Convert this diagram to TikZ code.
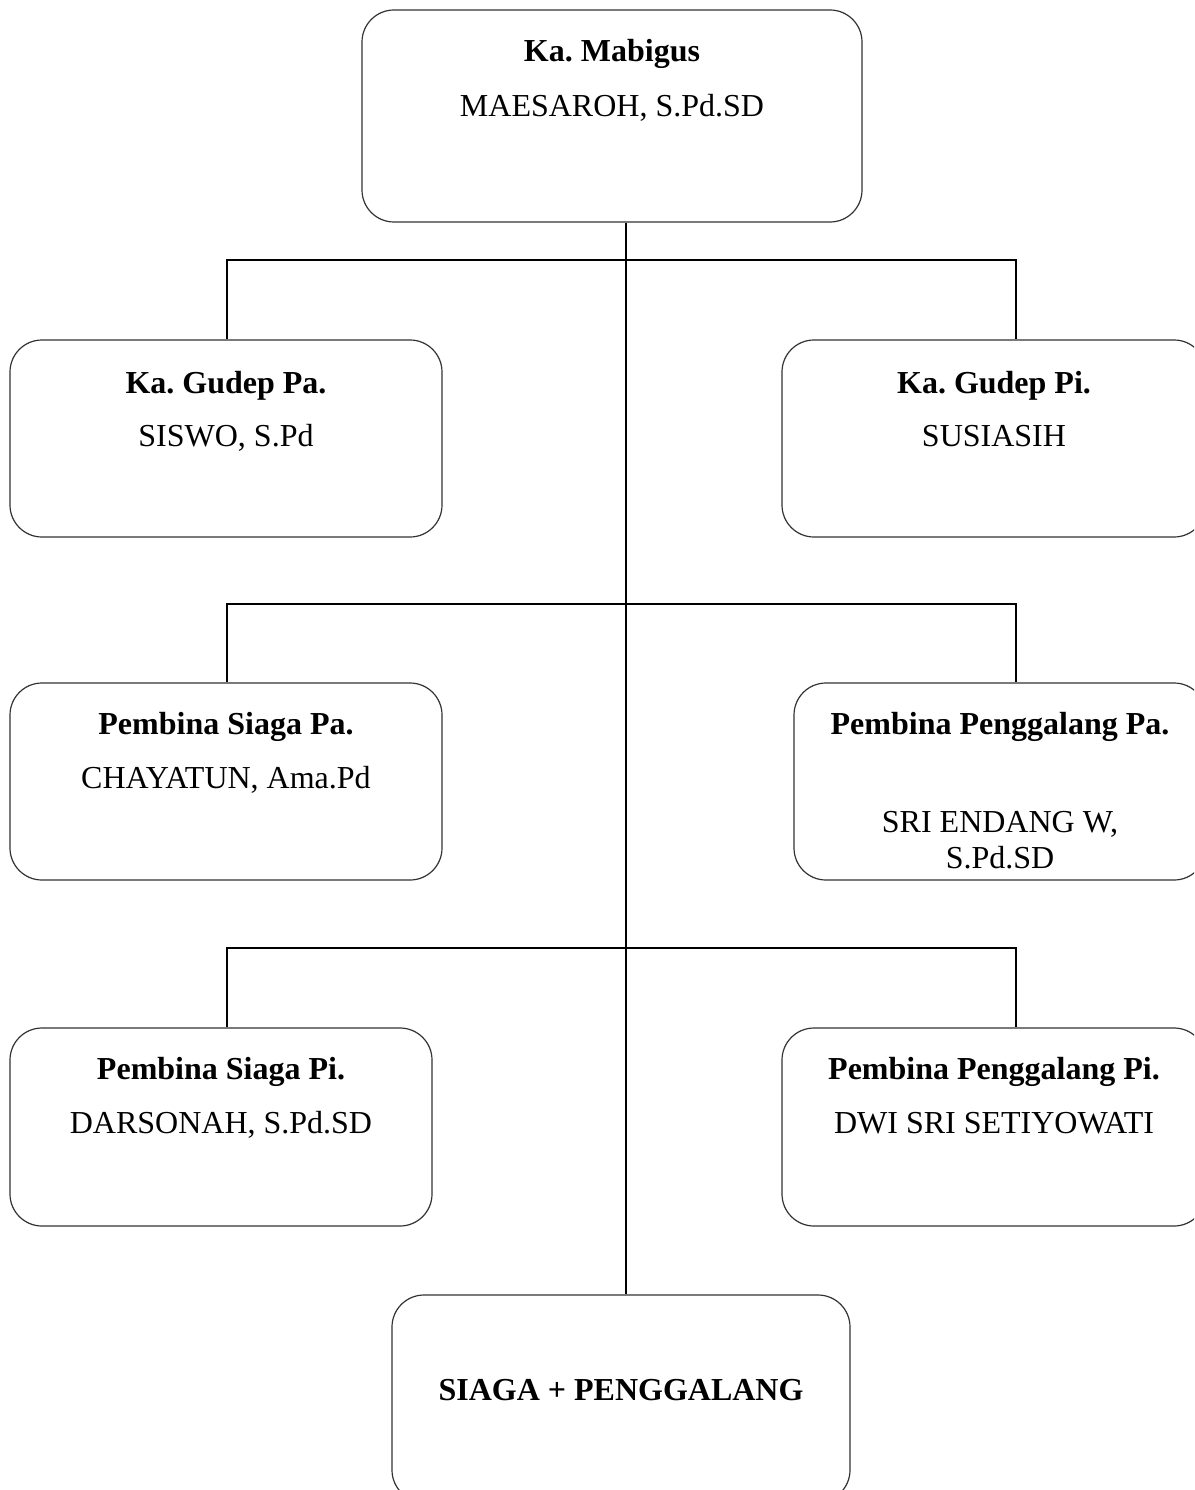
\documentclass[tikz,border=0pt]{standalone}
\usepackage{fontspec}
\setmainfont{Liberation Serif}
\frenchspacing
\begin{document}
\begin{tikzpicture}[x=1pt,y=-1pt,
  box/.style={draw=black!80, line width=1.2pt, rounded corners=32pt, inner sep=0pt},
  conn/.style={draw=black, line width=2pt},
  ttl/.style={anchor=base, inner sep=0pt, font=\fontsize{32}{38}\selectfont\bfseries},
  nm/.style={anchor=base, inner sep=0pt, align=center, font=\fontsize{32}{36}\selectfont}]
\useasboundingbox (0,0) rectangle (1194,1490);
\clip (0,0) rectangle (1194,1490);
\fill[white] (0,0) rectangle (1194,1490);
% boxes
\node[box, minimum width=500pt, minimum height=212pt] (top) at (612,116) {};
\node[box, minimum width=432pt, minimum height=197pt] (gpa) at (226,438.5) {};
\node[box, minimum width=424pt, minimum height=197pt] (gpi) at (994,438.5) {};
\node[box, minimum width=432pt, minimum height=197pt] (spa) at (226,781.5) {};
\node[box, minimum width=412pt, minimum height=197pt] (ppa) at (1000,781.5) {};
\node[box, minimum width=422pt, minimum height=198pt] (spi) at (221,1127) {};
\node[box, minimum width=424pt, minimum height=198pt] (ppi) at (994,1127) {};
\node[box, minimum width=458pt, minimum height=207pt] (bot) at (621,1398.5) {};
% texts
\node[ttl] (topt) at ([yshift=-52pt]top.north) {Ka. Mabigus};
\node[nm] (topn) at ([yshift=-107pt]top.north) {MAESAROH, S.Pd.SD};
\node[ttl] (gpat) at ([yshift=-54pt]gpa.north) {Ka. Gudep Pa.};
\node[nm] (gpan) at ([yshift=-107pt]gpa.north) {SISWO, S.Pd};
\node[ttl] (gpit) at ([yshift=-54pt]gpi.north) {Ka. Gudep Pi.};
\node[nm] (gpin) at ([yshift=-107pt]gpi.north) {SUSIASIH};
\node[ttl] (spat) at ([yshift=-52pt]spa.north) {Pembina Siaga Pa.};
\node[nm] (span) at ([yshift=-106pt]spa.north) {CHAYATUN, Ama.Pd};
\node[ttl] (ppat) at ([yshift=-52pt]ppa.north) {Pembina Penggalang Pa.};
\node[nm] (ppan1) at ([yshift=-150pt]ppa.north) {SRI ENDANG W,};
\node[nm] (ppan2) at ([yshift=-186pt]ppa.north) {S.Pd.SD};
\node[ttl] (spit) at ([yshift=-52pt]spi.north) {Pembina Siaga Pi.};
\node[nm] (spin) at ([yshift=-106pt]spi.north) {DARSONAH, S.Pd.SD};
\node[ttl] (ppit) at ([yshift=-52pt]ppi.north) {Pembina Penggalang Pi.};
\node[nm] (ppin) at ([yshift=-106pt]ppi.north) {DWI SRI SETIYOWATI};
\node[ttl] (bott) at ([yshift=-106pt]bot.north) {SIAGA + PENGGALANG};
% junction coordinates
\coordinate (j1) at (626,260);
\coordinate (b1l) at (227,260);
\coordinate (b1r) at (1016,260);
\coordinate (b2l) at (227,604);
\coordinate (b2r) at (1016,604);
\coordinate (b3l) at (227,948);
\coordinate (b3r) at (1016,948);
% connectors
\draw[conn] (top.south -| j1) -- (bot.north -| j1);
\draw[conn] (b1l |- gpa.north) -- (b1l) -- (b1r) -- (b1r |- gpi.north);
\draw[conn] (b2l |- spa.north) -- (b2l) -- (b2r) -- (b2r |- ppa.north);
\draw[conn] (b3l |- spi.north) -- (b3l) -- (b3r) -- (b3r |- ppi.north);
\end{tikzpicture}
\end{document}
